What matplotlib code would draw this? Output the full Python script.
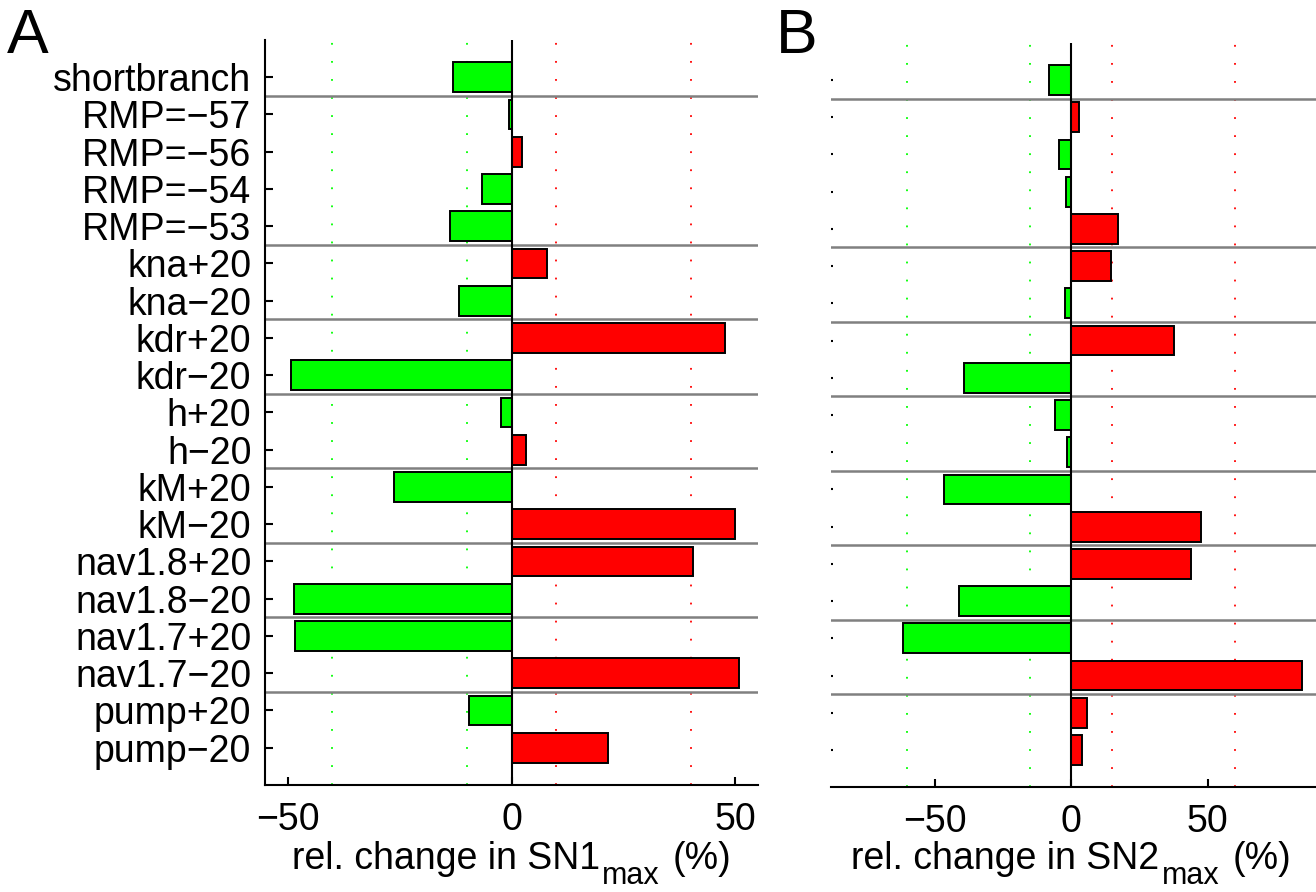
from matplotlib import pyplot as plt
import numpy as np

plt.rcParams['font.family'] = ['Liberation Sans', 'DejaVu Sans']

## data
labels = ['shortbranch', 'RMP=\u221257', 'RMP=\u221256', 'RMP=\u221254', 'RMP=\u221253',
          'kna+20', 'kna\u221220', 'kdr+20', 'kdr\u221220', 'h+20', 'h\u221220',
          'kM+20', 'kM\u221220', 'nav1.8+20', 'nav1.8\u221220', 'nav1.7+20', 'nav1.7\u221220',
          'pump+20', 'pump\u221220']
sn1 = [-13.1, -0.5, 2.3, -6.5, -13.8, 8.0, -11.8, 47.7, -49.2, -2.4, 3.3,
       -26.3, 49.9, 40.5, -48.5, -48.3, 50.7, -9.4, 21.6]
sn2 = [-8.1, 2.8, -4.6, -1.8, 17.0, 14.6, -2.4, 37.7, -39.3, -5.9, -1.7,
       -46.6, 47.5, 43.9, -41.1, -61.6, 84.4, 5.75, 3.8]
group_breaks = [0.5, 4.5, 6.5, 8.5, 10.5, 12.5, 14.5, 16.5]
sn1_thresh = [10, 40]
sn2_thresh = [15, 60]
xticks = [-50, 0, 50]

FS = 27
GREEN = (0, 1, 0)
RED = (1, 0, 0)


def panel(ax, vals, thresh, xlim, show_labels):
    y = np.arange(len(vals))
    cols = [RED if v > 0 else GREEN for v in vals]
    for t in thresh:
        ax.axvline(-t, color=GREEN, ls=(0, (1, 9)), lw=1.3, zorder=1)
        ax.axvline(t, color=RED, ls=(0, (1, 9)), lw=1.3, zorder=1)
    ax.barh(y, vals, height=0.8, color=cols, edgecolor='k', linewidth=1.4, zorder=3)
    for b in group_breaks:
        ax.axhline(b, color=(0.5, 0.5, 0.5), lw=1.8, zorder=2)
    ax.axvline(0, color='k', lw=1.5, zorder=4)
    ax.set_xlim(xlim)
    ax.set_ylim(len(vals), -1)
    ax.set_xticks(xticks)
    ax.set_yticks(y)
    for s in ['top', 'right']:
        ax.spines[s].set_visible(False)
    ax.spines['bottom'].set_linewidth(1.5)
    ax.spines['left'].set_linewidth(1.5)
    ax.tick_params(axis='x', direction='in', length=6, width=1.5, labelsize=FS, pad=12)
    if show_labels:
        ax.set_yticklabels(labels)
        ax.tick_params(axis='y', direction='in', length=6, width=1.5, labelsize=FS, pad=10)
    else:
        ax.set_yticklabels([])
        ax.spines['left'].set_visible(False)
        ax.tick_params(axis='y', direction='in', length=1.5, width=1.5)


def xlabel(fig, ax, name):
    # label with a lowered subscript, centred under x = 0
    x0 = ax.transData.transform((0, 0))[0] / fig.bbox.width
    t1 = fig.text(x0, 0.026, 'rel. change in ' + name, fontsize=FS,
                  va='baseline', ha='left')
    t2 = fig.text(0, 0, 'max', fontsize=22, va='baseline', ha='left')
    t3 = fig.text(0, 0, '(%)', fontsize=FS, va='baseline', ha='left')
    fig.canvas.draw()
    r = fig.canvas.get_renderer()
    b1 = t1.get_window_extent(r)
    b2 = t2.get_window_extent(r)
    b3 = t3.get_window_extent(r)
    W, H = fig.bbox.width, fig.bbox.height
    base = 0.026 * H
    xa = b1.x1 + 2
    xb = xa + b2.width + 13
    total = xb + b3.width - b1.x0
    shift = total / 2
    t1.set_x((b1.x0 - shift) / W)
    t2.set_position(((xa - shift) / W, (base - 15) / H))
    t3.set_position(((xb - shift) / W, base / H))


fig = plt.figure(figsize=(13.16, 8.92), dpi=100)
ax1 = fig.add_axes([0.2016, 0.12, 0.3742, 0.8352])
ax2 = fig.add_axes([0.6315, 0.1174, 0.3685, 0.8347])

panel(ax1, sn1, sn1_thresh, (-55, 55), True)
panel(ax2, sn2, sn2_thresh, (-88, 89.7), False)

xlabel(fig, ax1, 'SN1')
xlabel(fig, ax2, 'SN2')

fig.text(0.0053, 0.9406, 'A', fontsize=45, va='baseline', ha='left')
fig.text(0.5897, 0.9406, 'B', fontsize=45, va='baseline', ha='left')

fig.savefig('out.png', dpi=100)
